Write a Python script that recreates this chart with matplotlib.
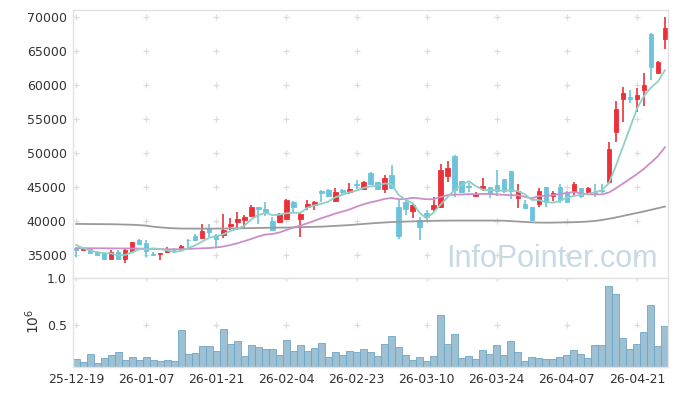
import matplotlib
matplotlib.use('Agg')
import matplotlib.pyplot as plt
import numpy as np

plt.rcParams['font.family'] = ['DejaVu Sans']

# x tick labels, one every 10 trading days
tick_labels = ['25-12-19', '26-01-07', '26-01-21', '26-02-04', '26-02-23',
               '26-03-10', '26-03-24', '26-04-07', '26-04-21']

opens = [36030, 35750, 35880, 35450, 35300, 34460, 35540, 34460, 35690, 37250,
         36860, 35200, 35250, 35440, 35800, 35880, 37300, 37840, 37600, 38970,
         37990, 37990, 39310, 39950, 40200, 40780, 42060, 41760, 40050, 39900,
         40340, 42840, 40390, 42160, 42350, 44410, 44610, 43040, 44610, 44310,
         45500, 44800, 47110, 45830, 44800, 46810, 42110, 42840, 41570, 40200,
         41180, 41810, 42060, 46710, 49660, 45930, 45150, 43770, 44850, 45000,
         45340, 46230, 47400, 43430, 42550, 42060, 42550, 45000, 43770, 45000,
         44360, 44460, 44850, 44360, 44310, 44560, 45830, 53190, 57960, 58350,
         58040, 59310, 67550, 61770, 66770]
highs = [36270, 36050, 36020, 35550, 35450, 35700, 35780, 35880, 37010, 37350,
         37250, 35420, 35350, 36170, 36030, 36520, 37350, 38080, 39600, 39600,
         38130, 41080, 40440, 41320, 40880, 42400, 42160, 42840, 40690, 41180,
         43240, 42990, 41180, 43140, 43040, 44610, 44710, 44850, 44710, 45590,
         46030, 45880, 47210, 45830, 46810, 48280, 43140, 43140, 42550, 40690,
         41670, 43630, 48380, 48870, 49760, 45930, 45690, 44360, 46420, 45100,
         47550, 46230, 47400, 45490, 43140, 42160, 44850, 45100, 44510, 45440,
         44460, 45740, 44950, 45100, 45440, 45540, 51720, 57750, 59680, 59240,
         59560, 61770, 67650, 63580, 70000]
lows = [34700, 35700, 35200, 35000, 34300, 34400, 34400, 33920, 35650, 36620,
        34800, 34850, 34300, 35290, 35290, 35690, 36030, 37160, 37500, 37740,
        36270, 37500, 38720, 38720, 39070, 40690, 39610, 40780, 38630, 39760,
        40200, 41370, 37650, 41660, 41660, 42890, 43630, 42890, 43870, 44020,
        44800, 44610, 45440, 44710, 44120, 44800, 37350, 40930, 40440, 37250,
        40200, 41570, 41910, 45830, 43630, 44120, 44310, 43620, 44460, 43380,
        43730, 44120, 43240, 41910, 41910, 40100, 42160, 42160, 42940, 42700,
        42650, 43870, 43380, 43870, 43580, 44120, 45690, 51620, 54660, 57470,
        56130, 56960, 60780, 61620, 65290]
closes = [35735, 35950, 35300, 35100, 34400, 35540, 34460, 35780, 36910, 36720,
          35590, 35050, 35300, 35780, 35700, 36370, 37200, 37250, 38630, 38480,
          37350, 38720, 39600, 40340, 40690, 42110, 41810, 41180, 38720, 41030,
          43140, 42160, 41080, 42550, 42840, 44220, 43770, 44310, 44310, 44750,
          45390, 45780, 45490, 44800, 46320, 44950, 37890, 41810, 42400, 39220,
          40690, 42400, 47550, 47890, 44610, 44260, 45100, 44070, 45200, 44120,
          44460, 44510, 44510, 44460, 42010, 40200, 44460, 42890, 44120, 43140,
          42890, 45540, 43770, 44850, 44210, 44460, 50640, 56520, 58840, 58060,
          58580, 60050, 62750, 63380, 68380]
# volume in millions of shares
volume = [0.132, 0.104, 0.186, 0.089, 0.143, 0.175, 0.207, 0.125, 0.154, 0.125,
          0.154, 0.125, 0.114, 0.125, 0.114, 0.443, 0.186, 0.196, 0.271, 0.271,
          0.218, 0.454, 0.293, 0.325, 0.164, 0.282, 0.261, 0.239, 0.239, 0.175,
          0.336, 0.218, 0.282, 0.218, 0.250, 0.304, 0.154, 0.207, 0.175, 0.218,
          0.207, 0.239, 0.207, 0.164, 0.293, 0.379, 0.261, 0.175, 0.121, 0.154,
          0.111, 0.164, 0.604, 0.293, 0.400, 0.143, 0.164, 0.132, 0.229, 0.186,
          0.282, 0.175, 0.325, 0.207, 0.111, 0.154, 0.143, 0.132, 0.132, 0.154,
          0.175, 0.229, 0.186, 0.143, 0.282, 0.282, 0.918, 0.829, 0.357, 0.239,
          0.293, 0.421, 0.711, 0.271, 0.486]
ma5 = [36520, 36030, 35690, 35440, 35297, 35258, 34960, 35056, 35418, 35882,
       35892, 36010, 35914, 35688, 35484, 35640, 36070, 36460, 37030, 37586,
       37782, 38086, 38556, 38898, 39340, 40292, 40910, 41226, 40902, 40970,
       41176, 41246, 41226, 41992, 42354, 42570, 42892, 43538, 43890, 44272,
       44506, 44908, 45144, 45242, 45556, 45468, 43890, 43154, 42674, 41254,
       40402, 41304, 42452, 43550, 44628, 45342, 45882, 45186, 44648, 44550,
       44590, 44472, 44560, 44412, 43990, 43138, 43128, 42804, 42736, 42962,
       43500, 43716, 43892, 44038, 44252, 44566, 45586, 48136, 50934, 53704,
       56528, 58410, 59656, 60564, 62228]
ma20 = [36050, 36040, 36030, 36020, 36020, 36010, 36000, 36000, 35990, 35980,
        35960, 35930, 35900, 35880, 35880, 35890, 35930, 35980, 36020, 36062,
        36143, 36282, 36497, 36759, 37073, 37402, 37769, 38039, 38130, 38345,
        38723, 39078, 39367, 39706, 40063, 40455, 40784, 41137, 41421, 41734,
        42136, 42489, 42784, 43007, 43288, 43430, 43234, 43266, 43450, 43359,
        43237, 43249, 43572, 43839, 43928, 43930, 43996, 43984, 44029, 43997,
        43951, 43887, 43838, 43821, 43606, 43368, 43697, 43751, 43837, 44033,
        44143, 44300, 44111, 43959, 43939, 43949, 44226, 44848, 45530, 46227,
        46933, 47710, 48622, 49568, 50887]
ma60 = [39610, 39600, 39590, 39580, 39570, 39560, 39540, 39510, 39480, 39430,
        39350, 39200, 39100, 39020, 38960, 38930, 38920, 38920, 38910, 38910,
        38920, 38930, 38940, 38950, 38970, 38990, 39010, 39030, 39050, 39060,
        39070, 39100, 39130, 39160, 39180, 39200, 39260, 39320, 39380, 39430,
        39520, 39600, 39680, 39750, 39820, 39880, 39920, 39950, 39980, 40010,
        40040, 40060, 40080, 40090, 40100, 40100, 40100, 40100, 40100, 40100,
        40100, 40080, 40020, 39960, 39900, 39840, 39800, 39790, 39800, 39820,
        39840, 39860, 39900, 39960, 40040, 40180, 40360, 40560, 40780, 41000,
        41220, 41440, 41680, 41920, 42160]

for s in (opens, highs, lows, closes, volume, ma5, ma20, ma60):
    assert len(s) == 85, len(s)

o = np.array(opens)
c = np.array(closes)
x = np.arange(len(c))
up = c >= o
red = '#ec3038'
blue = '#6cc3dc'
cols = np.where(up, red, blue)

fig = plt.figure(figsize=(6.77, 3.96), dpi=100)
ax = fig.add_axes([0.1078, 0.298, 0.879, 0.6767])
ax2 = fig.add_axes([0.1078, 0.0732, 0.879, 0.2248], sharex=ax)

grid_col = '#dcdcdc'
xt = np.arange(0, len(c), 10)
yt = np.arange(35000, 70001, 5000)

# plus-sign grid
gx, gy = np.meshgrid(xt, yt)
ax.scatter(gx.ravel(), gy.ravel(), marker='+', s=22, color=grid_col, lw=0.9, zorder=0)
gx2, gy2 = np.meshgrid(xt, [0.5, 1.0])
ax2.scatter(gx2.ravel(), gy2.ravel(), marker='+', s=22, color=grid_col, lw=0.9, zorder=0)

# watermark
ax.text(0.983, 0.04, 'InfoPointer.com', transform=ax.transAxes, ha='right',
        va='baseline', fontsize=22, family='Liberation Sans', color='#c6d9e4',
        zorder=1)

# candles
ax.vlines(x, lows, highs, colors=cols, lw=1.2, zorder=2)
ax.bar(x, np.abs(c - o), bottom=np.minimum(o, c), width=0.62, color=cols,
       edgecolor=cols, linewidth=0.6, zorder=2)

# moving averages
ax.plot(x, ma60, color='#9a9a9a', lw=1.3, zorder=3)
ax.plot(x, ma20, color='#cc8ec9', lw=1.3, zorder=3)
ax.plot(x, ma5, color='#8ed0c5', lw=1.3, zorder=3)

ax.set_xlim(-0.45, 84.45)
ax.set_ylim(31650, 71080)
ax.set_yticks(yt)
ax.tick_params(length=0, labelsize=9, colors='#333333', pad=4.5)
ax.tick_params(axis='x', labelbottom=False)

# volume
ax2.bar(x, volume, width=1.0, color='#9dc0d3', edgecolor='#6fa5c6', linewidth=0.6)
ax2.set_ylim(0.047, 1.0)
ax2.set_yticks([0.5, 1.0])
ax2.set_yticklabels(['0.5', '1.0'])
ax2.set_xticks(xt)
ax2.set_xticklabels(tick_labels)
ax2.tick_params(length=0, labelsize=9, colors='#333333', pad=4.5)
ax2.tick_params(axis='x', pad=4)
fig.text(32.5 / 677, 1 - 321 / 396, r'$10^6$', rotation=90, ha='center',
         va='center', fontsize=10, color='#333333')

for a in (ax, ax2):
    for sp in a.spines.values():
        sp.set_color('#e2e2e2')
        sp.set_linewidth(1.0)

fig.savefig('out.png', dpi=100)
